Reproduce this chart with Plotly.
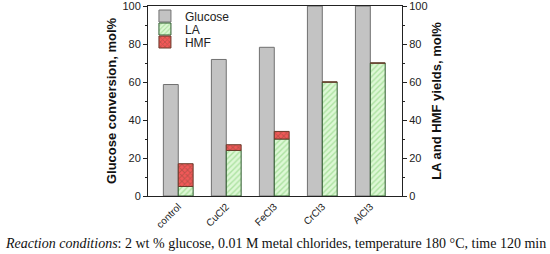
import plotly.graph_objects as go

categories = ["control", "CuCl2", "FeCl3", "CrCl3", "AlCl3"]
glucose_conv = [58.7, 71.9, 78.3, 100, 100]
la_yield = [5, 24, 30, 60, 70]
hmf_yield = [12, 3, 4, 0, 0]
y_ticks = [0, 20, 40, 60, 80, 100]

x = list(range(len(categories)))
W = 0.31

fig = go.Figure()
fig.add_trace(go.Bar(
    x=x, y=glucose_conv, name="Glucose", width=W, offset=-W,
    marker=dict(color="#C3C3C3", line=dict(color="#707070", width=1)),
    yaxis="y", legend="legend",
))
fig.add_trace(go.Bar(
    x=x, y=la_yield, name="LA", width=W, offset=0,
    marker=dict(color="#CFF5C4", line=dict(color="#2E5A2E", width=1),
                pattern=dict(shape="/", fgcolor="#7DCB6E", bgcolor="#DDF8D5", size=4, solidity=0.35)),
    yaxis="y2", legend="legend2",
))
fig.add_trace(go.Bar(
    x=x, y=hmf_yield, base=la_yield, name="HMF", width=W, offset=0,
    marker=dict(color="#F05A5A", line=dict(color="#6A3A2A", width=1),
                pattern=dict(shape="x", fgcolor="#8A4A3A", bgcolor="#F25858", size=4, solidity=0.45)),
    yaxis="y2", legend="legend3",
))

axis_common = dict(
    showline=True, linecolor="#222", linewidth=1, ticks="outside", ticklen=4,
    tickcolor="#222", showgrid=False, zeroline=False, automargin=False,
    ticklabeloverflow="allow",
    tickfont=dict(family="Liberation Sans, Arial", size=11, color="#222"),
    range=[0, 100.05], tickmode="array", tickvals=y_ticks,
    ticktext=[str(v) for v in y_ticks],
    minor=dict(ticks="outside", ticklen=2, dtick=10, tickcolor="#222"),
)

legend_common = dict(
    x=-0.012, xanchor="left", yanchor="middle", bgcolor="rgba(0,0,0,0)",
    font=dict(family="Liberation Sans, Arial", size=12, color="#222"),
    itemwidth=30,
)

fig.update_layout(
    width=550, height=254,
    margin=dict(l=148, r=148, t=6, b=58, autoexpand=False),
    paper_bgcolor="white", plot_bgcolor="white",
    barmode="overlay",
    showlegend=True,
    legend=dict(y=1 - 10/190, **legend_common),
    legend2=dict(y=1 - 23/190, **legend_common),
    legend3=dict(y=1 - 36/190, **legend_common),
    xaxis=dict(
        tickmode="array", tickvals=x, ticktext=categories, range=[-0.63, 4.66],
        showline=True, linecolor="#222", linewidth=1, mirror=True, ticks="",
        showgrid=False, zeroline=False, tickangle=-45, automargin=False,
        tickfont=dict(family="Liberation Sans, Arial", size=10, color="#222"),
    ),
    yaxis=dict(
        **axis_common,
        title=dict(text="<b>Glucose conversion, mol%</b>", standoff=2,
                   font=dict(family="Liberation Sans, Arial", size=13, color="#111")),
    ),
    yaxis2=dict(
        **axis_common, overlaying="y", side="right",
        title=dict(text="<b>LA and HMF yields, mol%</b>", standoff=5,
                   font=dict(family="Liberation Sans, Arial", size=13, color="#111")),
    ),
)

fig.add_annotation(
    xref="paper", yref="paper", x=-145/254, y=-47/190, xanchor="left", yanchor="middle",
    showarrow=False, align="left",
    text="<i>Reaction conditions</i>: 2 wt % glucose, 0.01 M metal chlorides, temperature 180 °C, time 120 min",
    font=dict(family="Liberation Serif, Times New Roman", size=14, color="#111"),
)

fig.write_html("out.html", config={"displayModeBar": False},
               post_script="document.body.style.margin='0';document.body.style.overflow='hidden';")
